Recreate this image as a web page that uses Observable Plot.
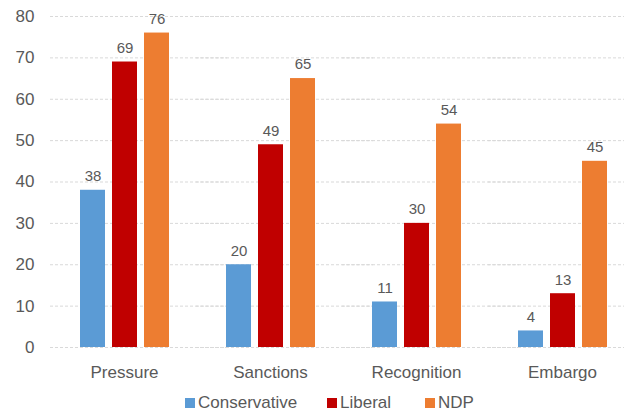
<!DOCTYPE html>
<html>
<head>
<meta charset="utf-8">
<script src="https://cdn.jsdelivr.net/npm/d3@7"></script>
<script src="https://cdn.jsdelivr.net/npm/@observablehq/plot@0.6"></script>
<style>
  body { margin: 0; background: #fff; font-family: "Liberation Sans", Arial, sans-serif; }
  #wrap { position: relative; width: 624px; height: 417px; overflow: hidden; }
  #legend { position: absolute; left: 0; top: 393px; width: 624px; height: 20px; color: #595959; font-size: 17px; }
  #legend .sw { position: absolute; top: 5px; width: 10px; height: 10px; }
  #legend .lab { position: absolute; top: 0; line-height: 20px; white-space: nowrap; }
</style>
</head>
<body>
<div id="wrap">
<div id="chart"></div>
<div id="legend"></div>
</div>
<script>
const categories = ["Pressure", "Sanctions", "Recognition", "Embargo"];
const parties = ["Conservative", "Liberal", "NDP"];
const conservative = [38, 20, 11, 4];
const liberal = [69, 49, 30, 13];
const ndp = [76, 65, 54, 45];
const partyColors = ["#5B9BD5", "#C00000", "#ED7D31"];
const yTicks = [0, 10, 20, 30, 40, 50, 60, 70, 80];

const series = [conservative, liberal, ndp];
const data = [];
categories.forEach((c, i) => {
  parties.forEach((p, j) => data.push({category: c, party: p, value: series[j][i]}));
});

const chart = Plot.plot({
  width: 624,
  height: 385,
  marginTop: 16,
  marginBottom: 38,
  marginLeft: 50,
  marginRight: 0,
  style: {fontFamily: "Liberation Sans, Arial, sans-serif", color: "#595959", background: "#fff", overflow: "hidden"},
  fx: {domain: categories, range: [51, 635], paddingInner: 0, paddingOuter: 0, label: null},
  x: {domain: parties, paddingInner: 0.22, paddingOuter: 0.89, axis: null},
  y: {domain: [0, 80], axis: null},
  color: {domain: parties, range: partyColors},
  facet: {data, x: "category"},
  marks: [
    Plot.ruleY(yTicks, {y: d => d, stroke: "#d9d9d9", strokeDasharray: "3,2", insetLeft: -1, insetRight: -30}),
    Plot.axisY({ticks: yTicks, tickSize: 0, tickPadding: 17, fontSize: 17, label: null, fill: "#595959", anchor: "left"}),
    Plot.axisFx({tickSize: 0, tickPadding: 18, fontSize: 17, label: null, fill: "#595959", anchor: "bottom"}),
    Plot.barY(data, {x: "party", y: "value", fill: "party"}),
    Plot.text(data, {x: "party", y: "value", text: d => String(d.value), dy: -14, fontSize: 15, fill: "#595959"})
  ]
});
document.getElementById("chart").appendChild(chart);

const legend = document.getElementById("legend");
const swatchLeft = [185, 327, 425];
parties.forEach((p, i) => {
  const sw = document.createElement("span");
  sw.className = "sw";
  sw.style.left = swatchLeft[i] + "px";
  sw.style.background = partyColors[i];
  const t = document.createElement("span");
  t.className = "lab";
  t.style.left = (swatchLeft[i] + 13) + "px";
  t.textContent = p;
  legend.appendChild(sw);
  legend.appendChild(t);
});
</script>
</body>
</html>
